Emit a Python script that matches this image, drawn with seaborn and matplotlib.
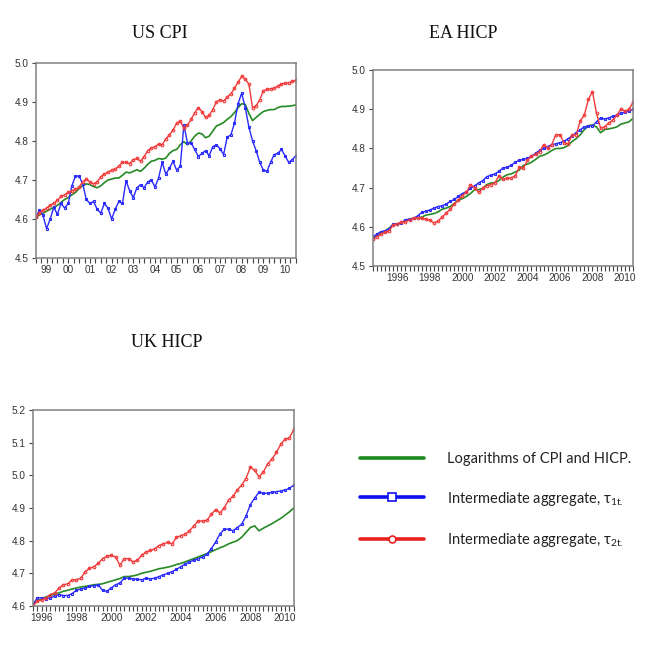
import numpy as np
import pandas as pd
import matplotlib
matplotlib.use("Agg")
import matplotlib.pyplot as plt
from matplotlib.ticker import FixedLocator, FixedFormatter, MultipleLocator, FormatStrFormatter
from matplotlib.lines import Line2D
import seaborn as sns

# ---------------- data ----------------
# US CPI, bi-monthly, 1999.0 .. 2011.0
us_t = 1999 + np.arange(73) / 6
us_log = [4.605, 4.610, 4.615, 4.620, 4.625, 4.630, 4.635, 4.643, 4.650, 4.655, 4.662, 4.668,
          4.678, 4.686, 4.690, 4.688, 4.683, 4.680, 4.685, 4.693, 4.700, 4.702, 4.705, 4.705,
          4.712, 4.720, 4.718, 4.722, 4.726, 4.722, 4.730, 4.740, 4.748, 4.750, 4.755, 4.753,
          4.756, 4.768, 4.775, 4.778, 4.790, 4.798, 4.790, 4.800, 4.812, 4.820, 4.818, 4.808,
          4.812, 4.825, 4.838, 4.842, 4.847, 4.855, 4.862, 4.872, 4.885, 4.895, 4.893, 4.870,
          4.852, 4.860, 4.868, 4.875, 4.878, 4.880, 4.880, 4.885, 4.888, 4.888, 4.889, 4.890,
          4.892]
us_tau1 = [4.605, 4.622, 4.610, 4.575, 4.600, 4.630, 4.612, 4.640, 4.628, 4.640, 4.685, 4.710,
           4.710, 4.690, 4.650, 4.640, 4.645, 4.625, 4.615, 4.640, 4.628, 4.600, 4.625, 4.645,
           4.640, 4.698, 4.672, 4.655, 4.680, 4.688, 4.680, 4.695, 4.700, 4.682, 4.705, 4.745,
           4.715, 4.730, 4.748, 4.725, 4.735, 4.840, 4.795, 4.795, 4.778, 4.760, 4.768, 4.775,
           4.762, 4.785, 4.790, 4.780, 4.765, 4.810, 4.815, 4.845, 4.895, 4.922, 4.885, 4.835,
           4.800, 4.775, 4.745, 4.725, 4.722, 4.745, 4.765, 4.768, 4.778, 4.762, 4.745, 4.752,
           4.762]
us_tau2 = [4.605, 4.615, 4.622, 4.628, 4.635, 4.640, 4.648, 4.658, 4.662, 4.668, 4.672, 4.676,
           4.682, 4.695, 4.702, 4.695, 4.690, 4.695, 4.708, 4.715, 4.720, 4.725, 4.728, 4.735,
           4.745, 4.745, 4.742, 4.752, 4.755, 4.748, 4.760, 4.775, 4.782, 4.785, 4.792, 4.790,
           4.805, 4.815, 4.828, 4.845, 4.850, 4.832, 4.840, 4.855, 4.872, 4.885, 4.875, 4.860,
           4.865, 4.880, 4.900, 4.905, 4.902, 4.912, 4.920, 4.935, 4.950, 4.965, 4.958, 4.945,
           4.885, 4.890, 4.905, 4.928, 4.932, 4.933, 4.935, 4.940, 4.945, 4.948, 4.948, 4.952,
           4.955]

# EA HICP, quarterly, 1995.0 .. 2011.0
ea_t = 1995 + np.arange(65) / 4
ea_log = [4.570, 4.578, 4.585, 4.590, 4.597, 4.607, 4.607, 4.610, 4.617, 4.620, 4.622, 4.623,
          4.625, 4.630, 4.632, 4.634, 4.638, 4.645, 4.648, 4.652, 4.660, 4.668, 4.672, 4.678,
          4.685, 4.695, 4.695, 4.698, 4.708, 4.712, 4.713, 4.718, 4.727, 4.733, 4.735, 4.740,
          4.745, 4.757, 4.760, 4.765, 4.772, 4.780, 4.783, 4.788, 4.795, 4.800, 4.800, 4.802,
          4.808, 4.818, 4.825, 4.835, 4.848, 4.858, 4.860, 4.855, 4.840, 4.848, 4.850, 4.852,
          4.855, 4.862, 4.865, 4.868, 4.877]
ea_tau1 = [4.575, 4.582, 4.588, 4.590, 4.595, 4.607, 4.608, 4.610, 4.618, 4.620, 4.622, 4.628,
           4.637, 4.640, 4.643, 4.648, 4.652, 4.654, 4.658, 4.665, 4.670, 4.678, 4.685, 4.690,
           4.698, 4.705, 4.712, 4.718, 4.728, 4.732, 4.735, 4.742, 4.750, 4.752, 4.757, 4.765,
           4.770, 4.772, 4.775, 4.780, 4.788, 4.795, 4.800, 4.805, 4.810, 4.812, 4.815, 4.818,
           4.825, 4.832, 4.840, 4.848, 4.855, 4.858, 4.858, 4.868, 4.878, 4.875, 4.878, 4.882,
           4.885, 4.890, 4.892, 4.895, 4.900]
ea_tau2 = [4.568, 4.575, 4.582, 4.586, 4.590, 4.605, 4.608, 4.612, 4.613, 4.618, 4.622, 4.624,
           4.622, 4.620, 4.617, 4.610, 4.615, 4.625, 4.635, 4.645, 4.658, 4.668, 4.680, 4.688,
           4.708, 4.700, 4.688, 4.698, 4.705, 4.708, 4.712, 4.730, 4.722, 4.724, 4.725, 4.730,
           4.752, 4.750, 4.770, 4.780, 4.785, 4.792, 4.810, 4.800, 4.810, 4.835, 4.835, 4.815,
           4.812, 4.835, 4.835, 4.870, 4.885, 4.925, 4.945, 4.890, 4.852, 4.855, 4.865, 4.872,
           4.885, 4.900, 4.895, 4.900, 4.918]

# UK HICP, quarterly, 1996.0 .. 2011.0
uk_t = 1996 + np.arange(61) / 4
uk_log = [4.605, 4.615, 4.622, 4.628, 4.632, 4.636, 4.640, 4.645, 4.648, 4.652, 4.655, 4.658,
          4.660, 4.662, 4.665, 4.666, 4.668, 4.672, 4.676, 4.680, 4.684, 4.690, 4.690, 4.692,
          4.695, 4.700, 4.703, 4.706, 4.710, 4.714, 4.716, 4.719, 4.722, 4.727, 4.730, 4.735,
          4.740, 4.745, 4.750, 4.755, 4.760, 4.766, 4.772, 4.778, 4.783, 4.790, 4.795, 4.800,
          4.810, 4.825, 4.840, 4.845, 4.830, 4.838, 4.845, 4.852, 4.860, 4.868, 4.878, 4.888,
          4.900]
uk_tau1 = [4.605, 4.625, 4.625, 4.622, 4.625, 4.630, 4.635, 4.632, 4.632, 4.638, 4.648, 4.652,
           4.655, 4.660, 4.662, 4.665, 4.648, 4.645, 4.655, 4.665, 4.670, 4.685, 4.685, 4.683,
           4.682, 4.680, 4.685, 4.683, 4.685, 4.690, 4.695, 4.700, 4.705, 4.712, 4.720, 4.728,
           4.735, 4.740, 4.745, 4.750, 4.758, 4.775, 4.795, 4.820, 4.835, 4.835, 4.830, 4.840,
           4.850, 4.875, 4.910, 4.930, 4.948, 4.945, 4.945, 4.948, 4.950, 4.952, 4.955, 4.960,
           4.970]
uk_tau2 = [4.600, 4.615, 4.618, 4.625, 4.635, 4.640, 4.655, 4.665, 4.668, 4.680, 4.680, 4.685,
           4.705, 4.715, 4.720, 4.730, 4.745, 4.752, 4.755, 4.750, 4.725, 4.745, 4.745, 4.735,
           4.740, 4.755, 4.765, 4.770, 4.775, 4.785, 4.790, 4.795, 4.790, 4.810, 4.815, 4.820,
           4.830, 4.845, 4.860, 4.860, 4.862, 4.880, 4.895, 4.885, 4.900, 4.925, 4.935, 4.955,
           4.970, 4.990, 5.025, 5.015, 4.995, 5.010, 5.035, 5.050, 5.070, 5.095, 5.110, 5.115,
           5.140]

series_labels = ["Logarithms of CPI and HICP.",
                 "Intermediate aggregate, τ$_{\\mathregular{1t.}}$",
                 "Intermediate aggregate, τ$_{\\mathregular{2t.}}$"]
titles = ["US CPI", "EA HICP", "UK HICP"]

us_xlabels = ["99", "00", "01", "02", "03", "04", "05", "06", "07", "08", "09", "10"]
ea_xlabels = ["1996", "1998", "2000", "2002", "2004", "2006", "2008", "2010"]
uk_xlabels = ["1996", "1998", "2000", "2002", "2004", "2006", "2008", "2010"]

# ---------------- style ----------------
sns.set_theme(style="white")
plt.rcParams['font.family'] = ['Liberation Sans', 'DejaVu Sans']
plt.rcParams['mathtext.fontset'] = 'custom'
plt.rcParams['mathtext.rm'] = 'Lato'

GREEN = '#258a25'
BLUE = '#2a2aff'
RED = '#f23a3a'
FRAME = '#808080'

fig = plt.figure(figsize=(6.52, 6.67), dpi=100)
fig.patch.set_facecolor('white')


def panel(rect, t, g, b, r, xlim, ylim, xlab_pos, xlabels):
    ax = fig.add_axes(rect)
    df = pd.DataFrame({"t": t, "g": g, "b": b, "r": r})
    sns.lineplot(data=df, x="t", y="g", ax=ax, color=GREEN, linewidth=1.2)
    sns.lineplot(data=df, x="t", y="b", ax=ax, color=BLUE, linewidth=1.0,
                 marker='s', markersize=2.0, markerfacecolor='none',
                 markeredgecolor=BLUE, markeredgewidth=0.8)
    sns.lineplot(data=df, x="t", y="r", ax=ax, color=RED, linewidth=1.0,
                 marker='o', markersize=1.9, markerfacecolor='none',
                 markeredgecolor=RED, markeredgewidth=0.8)
    ax.set_xlim(*xlim)
    ax.set_ylim(*ylim)
    ax.set_xlabel("")
    ax.set_ylabel("")
    ax.yaxis.set_major_locator(MultipleLocator(0.1))
    ax.yaxis.set_major_formatter(FormatStrFormatter('%.1f'))
    ax.xaxis.set_major_locator(FixedLocator(xlab_pos))
    ax.xaxis.set_major_formatter(FixedFormatter(xlabels))
    ax.xaxis.set_minor_locator(MultipleLocator(0.25))
    ax.xaxis.remove_overlapping_locs = False
    ax.tick_params(axis='x', which='major', length=0, pad=5, labelsize=7.2,
                   labelcolor='#333333')
    ax.tick_params(axis='x', which='minor', length=3.5, width=0.8, color='#444444',
                   direction='out', bottom=True)
    ax.tick_params(axis='y', which='major', length=3, width=0.8, color='#444444',
                   direction='out', left=True, pad=2, labelsize=7.2, labelcolor='#333333')
    for s in ax.spines.values():
        s.set_color(FRAME)
        s.set_linewidth(1.1)
    ax.grid(False)
    return ax


ax1 = panel([0.0548, 0.613, 0.399, 0.293], us_t, us_log, us_tau1, us_tau2,
            (1999, 2011), (4.5, 5.0), [y + 0.5 for y in range(1999, 2011)], us_xlabels)
ax2 = panel([0.572, 0.601, 0.399, 0.294], ea_t, ea_log, ea_tau1, ea_tau2,
            (1995, 2011), (4.5, 5.0), [y + 0.5 for y in range(1996, 2011, 2)], ea_xlabels)
ax3 = panel([0.0506, 0.0915, 0.400, 0.294], uk_t, uk_log, uk_tau1, uk_tau2,
            (1996, 2011), (4.6, 5.2), [y + 0.5 for y in range(1996, 2011, 2)], uk_xlabels)

tfont = dict(family=['Liberation Serif', 'DejaVu Serif'], fontsize=13, color='#111111',
             ha='center', va='center')
fig.text(0.245, 0.950, titles[0], **tfont)
fig.text(0.710, 0.950, titles[1], **tfont)
fig.text(0.256, 0.486, titles[2], **tfont)

handles = [
    Line2D([], [], color='#1e8a1e', linewidth=2.6),
    Line2D([], [], color='#1010ee', linewidth=2.6, marker='s', markersize=6,
           markerfacecolor='white', markeredgecolor='#1010ee', markeredgewidth=1.2),
    Line2D([], [], color='#e82020', linewidth=2.6, marker='o', markersize=5,
           markerfacecolor='white', markeredgecolor='#e82020', markeredgewidth=1.2),
]
leg = fig.legend(handles, series_labels, loc='upper left', bbox_to_anchor=(0.552, 0.322),
                 frameon=False, borderpad=0, borderaxespad=0, handlelength=4.4,
                 handletextpad=1.6, labelspacing=1.6, numpoints=1,
                 prop={'family': ['Lato', 'DejaVu Sans'], 'size': 10.5})
for txt in leg.get_texts():
    txt.set_color('#222222')

fig.savefig("out.png", dpi=100, facecolor='white')
